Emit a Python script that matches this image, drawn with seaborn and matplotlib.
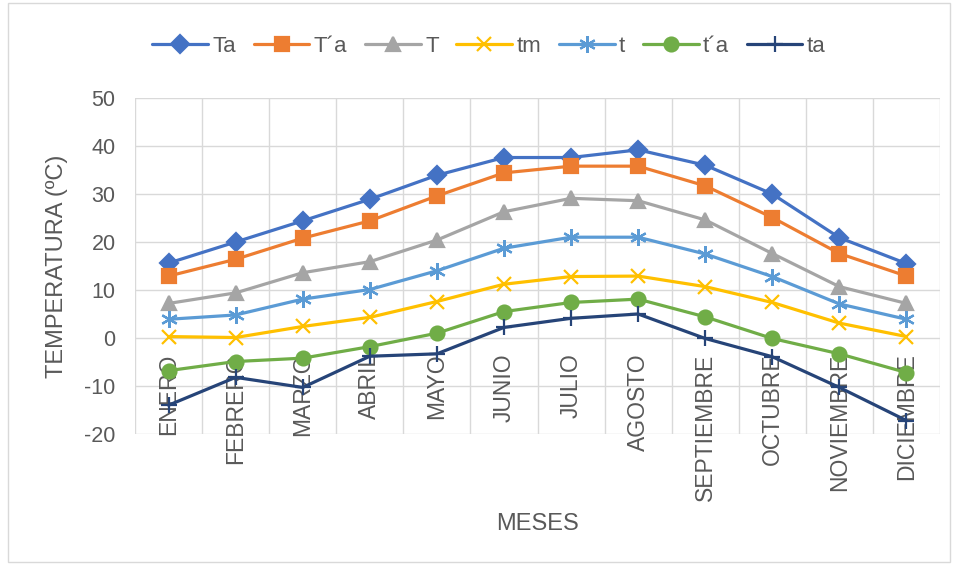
import matplotlib
matplotlib.use("Agg")
import matplotlib.pyplot as plt
import seaborn as sns
import pandas as pd
from matplotlib.patches import Rectangle

# Datos
meses = ["ENERO", "FEBRERO", "MARZO", "ABRIL", "MAYO", "JUNIO", "JULIO",
         "AGOSTO", "SEPTIEMBRE", "OCTUBRE", "NOVIEMBRE", "DICIEMBRE"]
Ta = [15.6, 20.0, 24.4, 28.9, 33.9, 37.6, 37.6, 39.2, 36.0, 30.0, 20.9, 15.5]
T_a = [12.9, 16.4, 20.8, 24.4, 29.6, 34.4, 35.8, 35.8, 31.7, 25.1, 17.6, 12.9]
T = [7.2, 9.4, 13.6, 15.9, 20.4, 26.3, 29.1, 28.6, 24.6, 17.6, 10.7, 7.2]
tm = [0.3, 0.1, 2.4, 4.3, 7.6, 11.2, 12.8, 12.9, 10.7, 7.4, 3.1, 0.3]
t = [3.9, 4.8, 8.1, 10.1, 14.0, 18.7, 21.0, 21.0, 17.5, 12.8, 7.1, 3.9]
t_a = [-6.8, -4.9, -4.2, -1.8, 1.0, 5.5, 7.4, 8.1, 4.4, -0.1, -3.3, -7.2]
ta = [-14.0, -8.2, -10.3, -3.8, -3.3, 2.2, 4.1, 5.0, -0.1, -3.9, -10.3, -17.2]

series = [
    ("Ta", Ta, "#4472C4", "D", 9),
    ("T\u00b4a", T_a, "#ED7D31", "s", 10),
    ("T", T, "#A5A5A5", "^", 10),
    ("tm", tm, "#FFC000", "x", 10),
    ("t", t, "#5B9BD5", (6, 2, 0), 12),
    ("t\u00b4a", t_a, "#70AD47", "o", 10),
    ("ta", ta, "#264478", "+", 11),
]

gris = "#595959"
sns.set_style("white")
plt.rcParams["font.family"] = ["Liberation Sans", "DejaVu Sans"]
plt.rcParams["axes.unicode_minus"] = False

fig = plt.figure(figsize=(9.57, 5.65), dpi=100)
ax = fig.add_axes([135 / 957, 1 - 434 / 565, 805 / 957, 336 / 565])

x = list(range(len(meses)))
for nombre, vals, color, marker, ms in series:
    df = pd.DataFrame({"x": x, "y": vals})
    sns.lineplot(data=df, x="x", y="y", ax=ax, color=color, linewidth=2.3,
                 marker=marker, markersize=ms, markeredgecolor=color,
                 markeredgewidth=1.6, label=nombre, zorder=3)

ax.set_xlim(-0.5, len(meses) - 0.5)
ax.set_ylim(-20, 50)
ax.set_yticks(range(-20, 51, 10))
ax.set_xticks(x)
ax.set_xticks([i - 0.5 for i in range(len(meses) + 1)], minor=True)
ax.tick_params(axis="x", which="both", length=0, labelbottom=False)
ax.tick_params(axis="y", length=0, labelsize=15.5, labelcolor=gris, pad=14)
ax.grid(True, axis="y", color="#D9D9D9", linewidth=1)
ax.grid(True, axis="x", which="minor", color="#D9D9D9", linewidth=1)
ax.grid(False, axis="x", which="major")
for s in ax.spines.values():
    s.set_visible(False)

# Etiquetas de mes pegadas a la línea del cero
for i, m in enumerate(meses):
    ax.annotate(m, xy=(i, 0), xytext=(0, -11), textcoords="offset points",
                rotation=90, ha="center", va="top", fontsize=16.5,
                color=gris, zorder=2)

ax.set_ylabel("TEMPERATURA (ºC)", fontsize=17, color=gris, va="center")
ax.yaxis.set_label_coords(-0.097, 0.5)
ax.set_xlabel("MESES", fontsize=17, color=gris)
ax.xaxis.set_label_coords(0.5, -0.235)

leg = ax.legend(loc="center", bbox_to_anchor=(489 / 957, 1 - 46 / 565),
                bbox_transform=fig.transFigure, ncol=7, frameon=False,
                fontsize=16, handlelength=2.5, columnspacing=0.8,
                handletextpad=0.2, borderaxespad=0)
for txt in leg.get_texts():
    txt.set_color(gris)

fig.patches.append(Rectangle((0.008, 0.005), 0.985, 0.99, transform=fig.transFigure,
                             fill=False, edgecolor="#D9D9D9", linewidth=1))

fig.savefig("out.png", dpi=100, facecolor="white")
